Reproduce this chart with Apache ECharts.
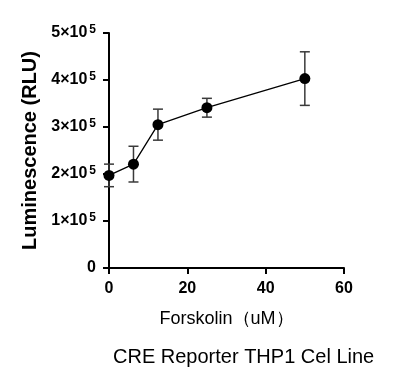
<!DOCTYPE html>
<html><head><meta charset="utf-8">
<script src="https://cdn.jsdelivr.net/npm/echarts@6/dist/echarts.min.js"></script>
<style>html,body{margin:0;padding:0;background:#fff}#c{width:400px;height:386px}</style>
</head><body><div id="c"></div>
<script>
var xValues = [0, 6.25, 12.5, 25, 50];
var means = [197000, 221000, 305000, 341000, 403000];
var errs = [24000, 38000, 33000, 20000, 57000];
var yTicks = ['0', '1×10^5', '2×10^5', '3×10^5', '4×10^5', '5×10^5'];
var xTitle = 'Forskolin（uM）';
var yTitle = 'Luminescence (RLU)';
var subTitle = 'CRE Reporter THP1 Cel Line';

var pts = xValues.map(function(x, i){ return [x, means[i]]; });
var errData = xValues.map(function(x, i){ return [x, means[i] - errs[i], means[i] + errs[i]]; });

var FF = '"Liberation Sans", Arial, sans-serif';
var chart = echarts.init(document.getElementById('c'));
chart.setOption({
  animation: false,
  backgroundColor: '#fff',
  grid: {left: 109, right: 56, top: 33, bottom: 118},
  graphic: [{
    type: 'text', left: 113, top: 347,
    style: {text: subTitle, fill: '#000', font: '20px ' + FF}
  }],
  xAxis: {
    type: 'value', min: 0, max: 60, interval: 20,
    name: xTitle, nameLocation: 'middle', nameGap: 42,
    nameTextStyle: {color: '#000', fontSize: 18, fontFamily: FF},
    axisLine: {lineStyle: {color: '#000', width: 2}},
    axisTick: {length: 6, lineStyle: {color: '#000', width: 2}},
    axisLabel: {color: '#000', fontSize: 16, fontWeight: 'bold', fontFamily: FF, margin: 13},
    splitLine: {show: false}
  },
  yAxis: {
    type: 'value', min: 0, max: 500000, interval: 100000,
    name: yTitle, nameLocation: 'middle', nameGap: 63, nameRotate: 90,
    nameTextStyle: {color: '#000', fontSize: 20, fontWeight: 'bold', fontFamily: FF},
    axisLine: {show: true, lineStyle: {color: '#000', width: 2}},
    axisTick: {show: true, length: 6, lineStyle: {color: '#000', width: 2}},
    axisLabel: {
      color: '#000', margin: 13, fontSize: 16, fontWeight: 'bold', fontFamily: FF,
      formatter: function(v){
        var t = yTicks[Math.round(v / 100000)];
        var p = t.split('^');
        return p.length > 1 ? '{b|' + p[0] + '}{s|' + p[1] + '}' : '{b|' + p[0] + '}';
      },
      rich: {
        b: {fontSize: 16, fontWeight: 'bold', color: '#000', fontFamily: FF},
        s: {fontSize: 12, fontWeight: 'bold', color: '#000', fontFamily: FF, verticalAlign: 'top', padding: [0, 0, 7, 2]}
      }
    },
    splitLine: {show: false}
  },
  series: [{
    type: 'custom',
    data: errData,
    z: 1,
    renderItem: function(params, api){
      var x = api.value(0);
      var lo = api.coord([x, api.value(1)]);
      var hi = api.coord([x, api.value(2)]);
      var w = 5;
      var st = {stroke: '#3a3a3a', lineWidth: 1.5};
      return {type: 'group', children: [
        {type: 'line', shape: {x1: lo[0], y1: lo[1], x2: hi[0], y2: hi[1]}, style: st},
        {type: 'line', shape: {x1: lo[0]-w, y1: lo[1], x2: lo[0]+w, y2: lo[1]}, style: st},
        {type: 'line', shape: {x1: hi[0]-w, y1: hi[1], x2: hi[0]+w, y2: hi[1]}, style: st}
      ]};
    }
  }, {
    type: 'line',
    data: pts,
    z: 3,
    symbol: 'circle', symbolSize: 11,
    itemStyle: {color: '#000'},
    lineStyle: {color: '#000', width: 1.3}
  }]
});
</script></body></html>
